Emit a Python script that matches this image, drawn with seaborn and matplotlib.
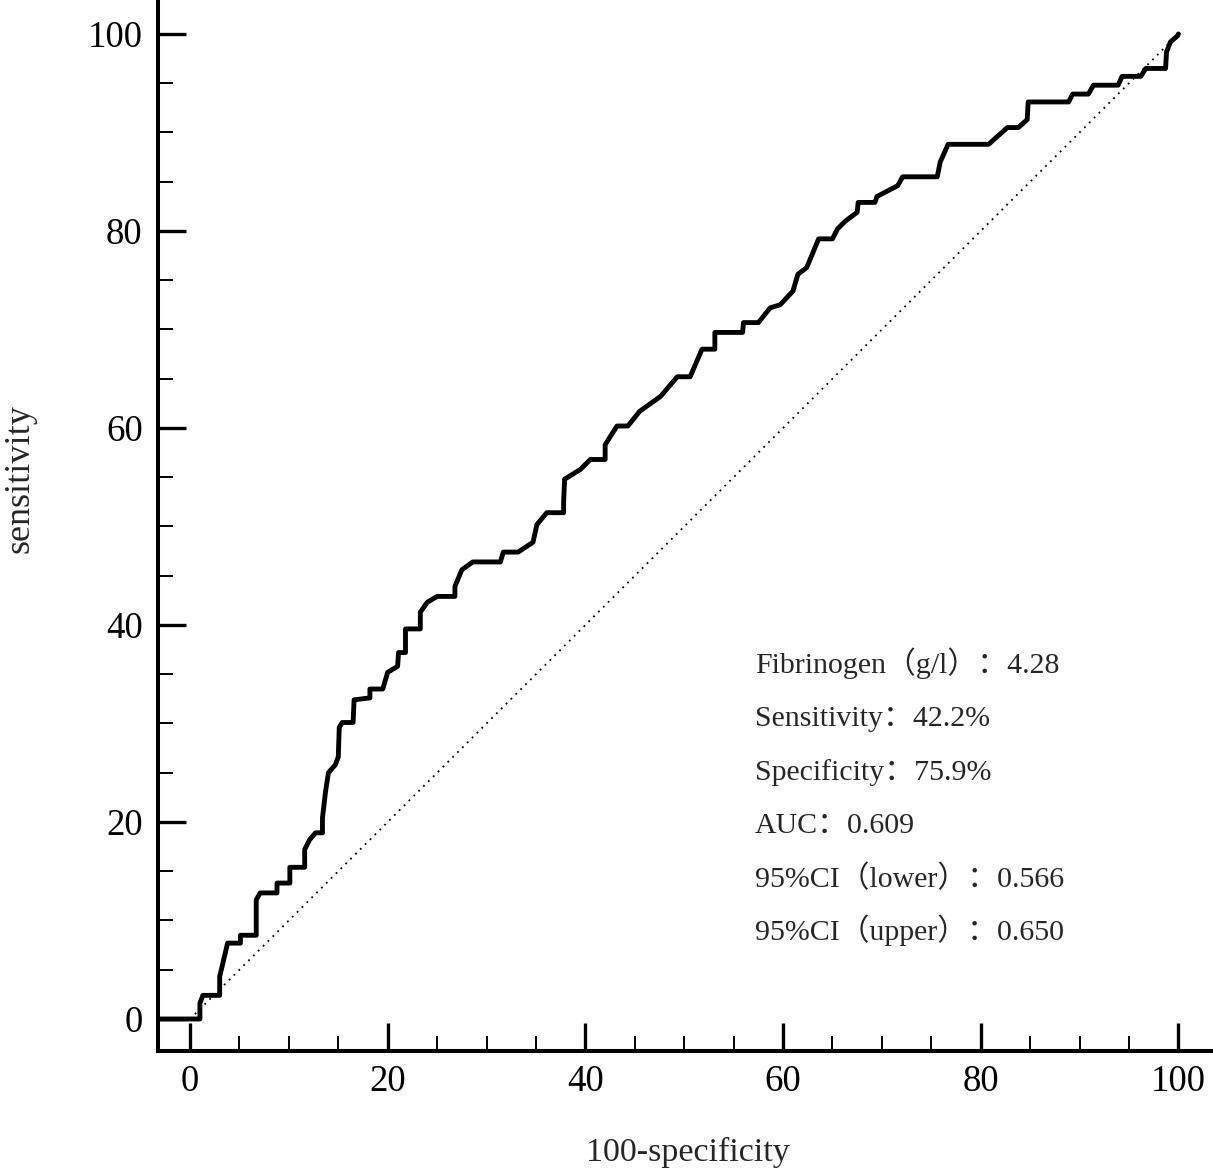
import matplotlib
matplotlib.use('Agg')
import matplotlib.pyplot as plt
import seaborn as sns
import pandas as pd
from matplotlib.ticker import MultipleLocator

# ROC curve vertices (100-specificity, sensitivity)
fpr = [-3.3, 1.0, 1.0, 1.3, 3.0, 3.0, 3.4, 3.8, 5.1, 5.1, 6.7, 6.7, 7.1, 8.8, 8.8, 10.1, 10.1,
       11.6, 11.6, 12.1, 12.7, 13.4, 13.4, 13.7, 14.0, 14.7, 15.0, 15.1, 15.4, 16.5, 16.6, 18.2,
       18.2, 19.5, 20.0, 21.0, 21.1, 21.8, 21.8, 23.3, 23.3, 24.0, 25.0, 26.8, 26.8, 27.5, 28.6,
       31.4, 31.7, 33.2, 34.7, 35.1, 36.1, 37.8, 37.8, 37.9, 39.5, 40.5, 42.0, 42.0, 43.2, 44.3,
       45.5, 47.6, 49.3, 50.6, 51.8, 53.1, 53.1, 55.9, 56.0, 57.5, 58.7, 59.7, 61.0, 61.5, 62.4,
       63.6, 65.0, 65.5, 66.3, 67.5, 67.6, 69.3, 69.5, 71.6, 72.1, 75.6, 75.9, 76.7, 80.8, 81.8,
       82.7, 83.8, 84.7, 84.8, 88.9, 89.3, 90.9, 91.4, 93.9, 94.3, 96.2, 96.7, 98.7, 98.8, 99.2,
       99.9, 100.0]
tpr = [0.0, 0.0, 1.6, 2.4, 2.4, 4.3, 6.0, 7.7, 7.7, 8.5, 8.5, 12.1, 12.8, 12.8, 13.8, 13.8, 15.4,
       15.4, 17.2, 18.2, 18.9, 18.9, 20.4, 23.0, 25.0, 25.8, 26.6, 29.6, 30.1, 30.1, 32.4, 32.6,
       33.5, 33.5, 35.2, 35.8, 37.2, 37.2, 39.6, 39.6, 41.3, 42.3, 42.9, 42.9, 43.9, 45.6, 46.4,
       46.4, 47.4, 47.4, 48.4, 50.2, 51.4, 51.4, 52.5, 54.8, 55.8, 56.8, 56.8, 58.3, 60.2, 60.2,
       61.7, 63.2, 65.2, 65.2, 68.0, 68.0, 69.7, 69.7, 70.7, 70.7, 72.2, 72.5, 73.9, 75.6, 76.3,
       79.2, 79.2, 80.2, 81.0, 81.9, 82.9, 82.9, 83.5, 84.6, 85.5, 85.5, 87.0, 88.8, 88.8, 89.7,
       90.5, 90.5, 91.3, 93.1, 93.1, 93.9, 93.9, 94.8, 94.8, 95.7, 95.7, 96.5, 96.5, 98.2, 99.2,
       99.8, 100.0]

# reference (chance) line
ref_x = [0, 100]
ref_y = [0, 100]

stats_lines = [
    "Fibrinogen（g/l）：4.28",
    "Sensitivity：42.2%",
    "Specificity：75.9%",
    "AUC：0.609",
    "95%CI（lower）：0.566",
    "95%CI（upper）：0.650",
]

roc_df = pd.DataFrame({'fpr': fpr, 'tpr': tpr})

sns.set_style('ticks')
plt.rcParams['font.family'] = ['Liberation Serif', 'Noto Sans CJK SC']

W, H = 1213, 1172
fig = plt.figure(figsize=(W / 100, H / 100), dpi=100)
ax = fig.add_axes([158 / W, 121 / H, 1 - 158 / W, 1 - 121 / H])

sns.lineplot(data=roc_df, x='fpr', y='tpr', sort=False, estimator=None,
             color='black', linewidth=3.5, ax=ax)
ax.plot(ref_x, ref_y, color='black', linewidth=1.3, linestyle=(0, (1, 2.8)))

ax.set_xlim(-3.24, 103.5)
ax.set_ylim(-3.25, 103.45)
ax.xaxis.set_major_locator(MultipleLocator(20))
ax.yaxis.set_major_locator(MultipleLocator(20))
ax.xaxis.set_minor_locator(MultipleLocator(5))
ax.yaxis.set_minor_locator(MultipleLocator(5))

for side in ['top', 'right']:
    ax.spines[side].set_visible(False)
for side in ['left', 'bottom']:
    ax.spines[side].set_linewidth(2.9)
    ax.spines[side].set_color('black')

ax.tick_params(which='major', direction='in', length=20, width=2.4,
               labelsize=26.5, colors='black')
ax.tick_params(axis='x', which='major', pad=10)
ax.tick_params(axis='y', which='major', pad=11)
ax.tick_params(which='minor', direction='in', length=11, width=1.4, colors='black')

ax.set_xlabel('')
ax.set_ylabel('')
fig.text(688 / W, 1 - 1152 / H, '100-specificity', fontsize=24.5, ha='center', va='center')
fig.text(20 / W, 1 - 479 / H, 'sensitivity', fontsize=26, ha='center', va='center',
         rotation=90)

baselines = [673, 726, 780, 833, 887, 940]
for line, yb in zip(stats_lines, baselines):
    fig.text(755 / W, 1 - yb / H, line, fontsize=21.5, ha='left', va='baseline')

fig.savefig('out.png', dpi=100)
